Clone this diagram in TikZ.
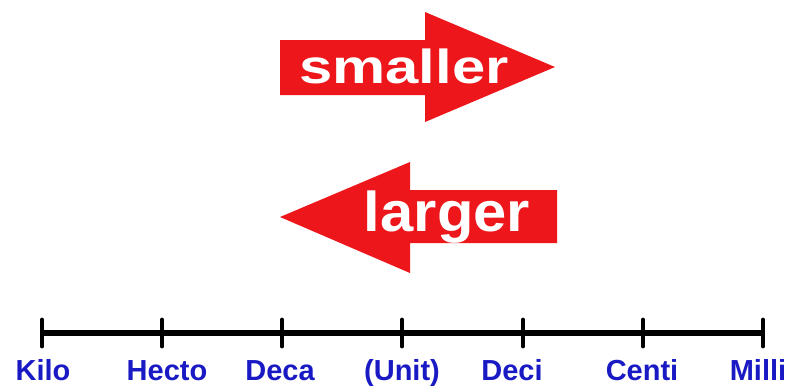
\documentclass[tikz,border=0pt]{standalone}
\usepackage{fontspec}
\setmainfont{Liberation Sans}
\usepackage{tikz}
\usetikzlibrary{positioning}

\definecolor{arrowred}{RGB}{237,22,26}
\definecolor{prefixblue}{RGB}{26,26,196}

\begin{document}
\begin{tikzpicture}[
      x=0.02cm, y=-0.02cm,
      bigarrow/.style={fill=arrowred},
      word/.style={text=white, anchor=base, inner sep=0pt, font=\bfseries\fontsize{34}{34}\selectfont},
      prefixlabel/.style={text=prefixblue, anchor=base, inner sep=0pt, font=\bfseries\fontsize{16.5}{16.5}\selectfont},
      scaleline/.style={line width=3.4pt},
      notch/.style={line width=2.8pt, line cap=round}
    ]
    \useasboundingbox (0,0) rectangle (791,387);

    % ---- smaller: pointing right ----
    \fill[bigarrow] (280,40) -- (425,40) -- (425,12) -- (555,67) -- (425,122) -- (425,95) -- (280,95) -- cycle;
    \node[word] (smaller) at (404,83) {\scalebox{1}[0.8]{smaller}};

    % ---- larger: pointing left ----
    \fill[bigarrow] (557,190) -- (410,190) -- (410,162) -- (280,217) -- (410,273) -- (410,243) -- (557,243) -- cycle;
    \node[word] (larger) at (447,231) {\scalebox{1}[0.94]{larger}};

    % ---- prefix scale ----
    \foreach \x/\lx/\name/\lab in {42/43/kilo/Kilo, 162/167/hecto/Hecto, 282/280/deca/Deca,
        402/402/unit/(Unit), 523/512/deci/Deci, 643/642/centi/Centi, 763/758/milli/Milli} {
      \coordinate (\name) at (\x,333);
      \draw[notch] ([yshift=0.26cm]\name) -- ([yshift=-0.26cm]\name);
      \node[prefixlabel] (\name-lbl) at (\lx,380) {\lab};
    }
    \draw[scaleline] (kilo) -- (milli);

\end{tikzpicture}
\end{document}
